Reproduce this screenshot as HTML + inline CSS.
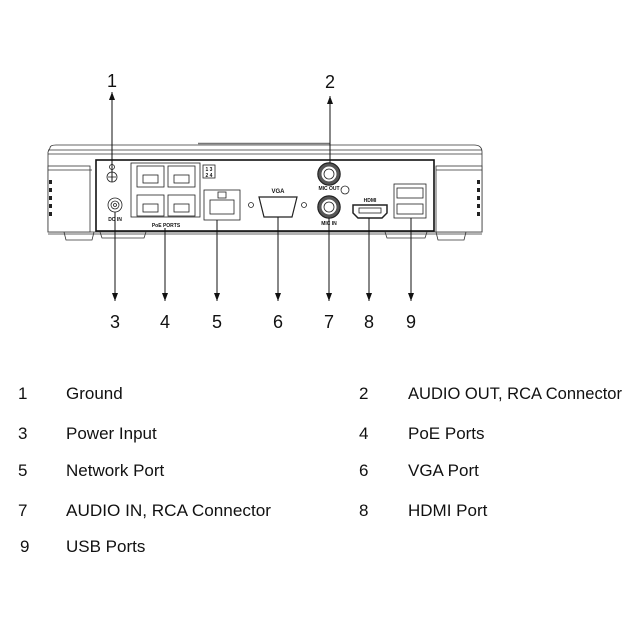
<!DOCTYPE html>
<html><head><meta charset="utf-8"><style>
html,body{margin:0;padding:0;background:#fff;}
svg{display:block;}
text{font-family:"Liberation Sans",sans-serif;fill:#111;}
</style></head><body>
<svg width="640" height="640" viewBox="0 0 640 640" xmlns="http://www.w3.org/2000/svg">
<defs>
<marker id="ah" markerWidth="8" markerHeight="6" refX="8" refY="3" orient="auto" markerUnits="userSpaceOnUse">
<path d="M0,0 L8,3 L0,6 z" fill="#111"/></marker>
</defs>
<g stroke="#333" fill="none" stroke-width="0.8">
<path d="M50,148 Q50,145 56,145 L474,145 Q482,145 482,152 L482,232 L48,232 L48,152 Z" fill="#fff"/>
<line x1="48" y1="150" x2="482" y2="150"/>
<line x1="48" y1="154" x2="482" y2="154"/>
<line x1="198" y1="143.5" x2="330" y2="143.5" stroke-width="1.5" stroke="#777"/>
<rect x="48" y="166" width="42" height="66" fill="#fff"/>
<rect x="436" y="166" width="46" height="66" fill="#fff"/>
<line x1="48" y1="170" x2="92" y2="170"/>
<line x1="436" y1="170" x2="482" y2="170"/>
<path d="M64,232 L66,240 L92,240 L94,232"/>
<path d="M100,232 L102,238 L144,238 L146,232"/>
<path d="M385,232 L387,238 L425,238 L427,232"/>
<path d="M436,232 L438,240 L464,240 L466,232"/>
<line x1="48" y1="234" x2="482" y2="234"/>
</g>
<g fill="#222">
<rect x="49" y="180" width="3" height="4"/><rect x="49" y="188" width="3" height="4"/><rect x="49" y="196" width="3" height="4"/><rect x="49" y="204" width="3" height="4"/><rect x="49" y="212" width="3" height="4"/>
<rect x="477" y="180" width="3" height="4"/><rect x="477" y="188" width="3" height="4"/><rect x="477" y="196" width="3" height="4"/><rect x="477" y="204" width="3" height="4"/><rect x="477" y="212" width="3" height="4"/>
</g>
<rect x="96" y="160" width="338" height="71" fill="#fff" stroke="#111" stroke-width="1.6"/>
<g stroke="#222" fill="none" stroke-width="0.8">
<circle cx="112" cy="177" r="5"/><line x1="108" y1="177" x2="116" y2="177"/><line x1="112" y1="173" x2="112" y2="181"/>
<circle cx="112" cy="167" r="2.5"/>
<circle cx="115" cy="205" r="7"/><circle cx="115" cy="205" r="4"/><circle cx="115" cy="205" r="1.5"/>
<rect x="131" y="163" width="69" height="54"/>
<rect x="137" y="166" width="27" height="21"/><rect x="168" y="166" width="27" height="21"/>
<rect x="137" y="195" width="27" height="21"/><rect x="168" y="195" width="27" height="21"/>
<rect x="143" y="175" width="15" height="8"/><rect x="174" y="175" width="15" height="8"/>
<rect x="143" y="204" width="15" height="8"/><rect x="174" y="204" width="15" height="8"/>
<rect x="203" y="165" width="12" height="13"/>
<rect x="204" y="190" width="36" height="30"/>
<rect x="210" y="200" width="24" height="14"/>
<rect x="218" y="192" width="8" height="6"/>
<path d="M259,197 L297,197 L292,217 L264,217 Z" stroke-width="1.2"/>
<circle cx="251" cy="205" r="2.5"/><circle cx="304" cy="205" r="2.5"/>
<circle cx="329" cy="174" r="11" stroke-width="1.5"/><circle cx="329" cy="174" r="5"/>
<circle cx="329" cy="207" r="11" stroke-width="1.5"/><circle cx="329" cy="207" r="5"/>
<circle cx="345" cy="190" r="4"/>
<path d="M353,205 L387,205 L387,213 L382,218 L358,218 L353,213 Z" stroke-width="1.5"/>
<rect x="359" y="208" width="22" height="5"/>
<rect x="394" y="184" width="32" height="34"/>
<rect x="397" y="188" width="26" height="10"/><rect x="397" y="204" width="26" height="10"/>
</g>
<g>
<circle cx="329" cy="174" r="9" fill="none" stroke="#555" stroke-width="3"/>
<circle cx="329" cy="207" r="9" fill="none" stroke="#555" stroke-width="3"/>
</g>
<g font-size="5" font-weight="bold" text-anchor="middle">
<text x="115" y="221">DC IN</text>
<text x="166" y="227">PoE PORTS</text>
<text x="278" y="193" font-size="6">VGA</text>
<text x="329" y="190">MIC OUT</text>
<text x="329" y="225">MIC IN</text>
<text x="370" y="202">HDMI</text>
<text x="209" y="171">1 3</text>
<text x="209" y="177">2 4</text>
</g>
<g stroke="#111" stroke-width="1">
<line x1="112" y1="182" x2="112" y2="92" marker-end="url(#ah)"/>
<line x1="330" y1="163" x2="330" y2="96" marker-end="url(#ah)"/>
<line x1="115" y1="212" x2="115" y2="301" marker-end="url(#ah)"/>
<line x1="165" y1="228" x2="165" y2="301" marker-end="url(#ah)"/>
<line x1="217" y1="220" x2="217" y2="301" marker-end="url(#ah)"/>
<line x1="278" y1="217" x2="278" y2="301" marker-end="url(#ah)"/>
<line x1="329" y1="218" x2="329" y2="301" marker-end="url(#ah)"/>
<line x1="369" y1="218" x2="369" y2="301" marker-end="url(#ah)"/>
<line x1="411" y1="218" x2="411" y2="301" marker-end="url(#ah)"/>
</g>
<g font-size="18" text-anchor="middle">
<text x="112" y="87">1</text>
<text x="330" y="88">2</text>
<text x="115" y="328">3</text>
<text x="165" y="328">4</text>
<text x="217" y="328">5</text>
<text x="278" y="328">6</text>
<text x="329" y="328">7</text>
<text x="369" y="328">8</text>
<text x="411" y="328">9</text>
</g>
<g font-size="17">
<text x="18" y="399">1</text><text x="66" y="399">Ground</text>
<text x="359" y="399">2</text><text x="408" y="399" textLength="214" lengthAdjust="spacingAndGlyphs">AUDIO OUT, RCA Connector</text>
<text x="18" y="439">3</text><text x="66" y="439">Power Input</text>
<text x="359" y="439">4</text><text x="408" y="439">PoE Ports</text>
<text x="18" y="476">5</text><text x="66" y="476">Network Port</text>
<text x="359" y="476">6</text><text x="408" y="476">VGA Port</text>
<text x="18" y="516">7</text><text x="66" y="516" textLength="205" lengthAdjust="spacingAndGlyphs">AUDIO IN, RCA Connector</text>
<text x="359" y="516">8</text><text x="408" y="516">HDMI Port</text>
<text x="20" y="552">9</text><text x="66" y="552">USB Ports</text>
</g>
</svg>
</body></html>
